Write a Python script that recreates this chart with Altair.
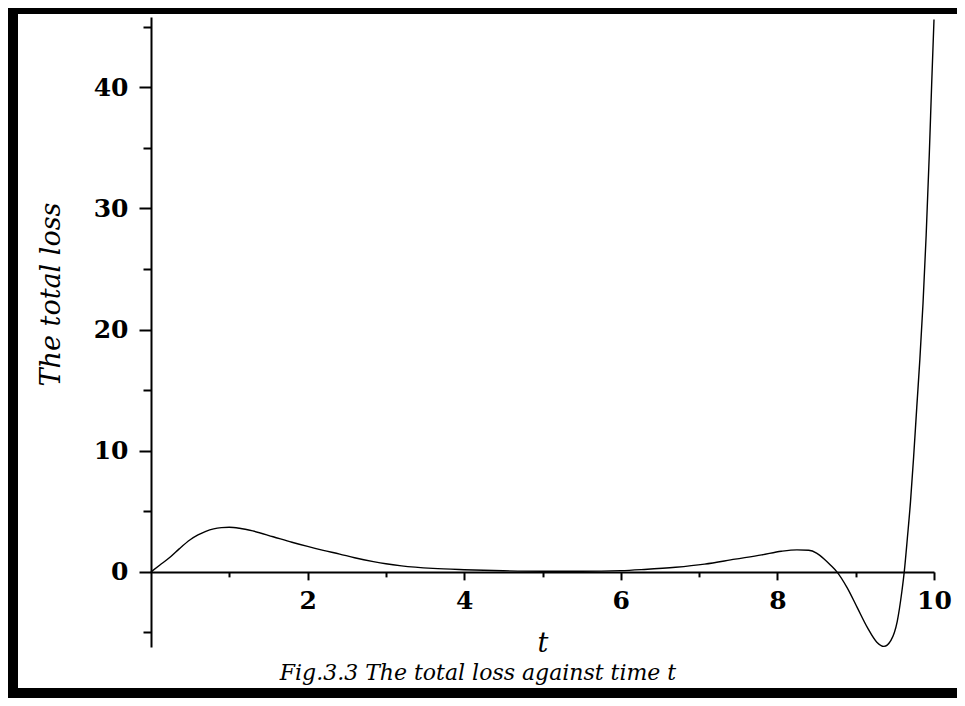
import altair as alt
import pandas as pd

# ---- data ----
t_vals = [0, 0.11, 0.25, 0.36, 0.5, 0.6, 0.7, 0.8, 0.9, 1.0, 1.13, 1.3, 1.56, 1.8,
          2.0, 2.2, 2.41, 2.6, 2.84, 3.0, 3.2, 3.6, 4.0, 4.5, 5.0, 5.5, 6.0, 6.3,
          6.7, 7.07, 7.46, 7.8, 8.05, 8.25, 8.4, 8.5, 8.6, 8.68, 8.76, 8.89, 9.02,
          9.15, 9.27, 9.36, 9.45, 9.53, 9.59, 9.62, 9.66, 9.70, 9.74, 9.78, 9.82,
          9.86, 9.90, 9.94, 9.97, 10.0]
loss_vals = [0, 0.55, 1.25, 1.9, 2.65, 3.05, 3.35, 3.55, 3.65, 3.68, 3.6, 3.38,
             2.9, 2.45, 2.1, 1.78, 1.47, 1.17, 0.85, 0.67, 0.5, 0.29, 0.18, 0.09,
             0.05, 0.05, 0.1, 0.2, 0.38, 0.64, 1.05, 1.4, 1.7, 1.82, 1.78, 1.55,
             1.05, 0.55, 0.0, -1.3, -2.95, -4.6, -5.8, -6.15, -5.65, -4.1, -1.6,
             0.0, 2.8, 5.8, 9.5, 13.6, 17.6, 22.2, 27.8, 34.5, 40.2, 45.6]

x_major = [2, 4, 6, 8, 10]
x_minor = [1, 3, 5, 7, 9]
y_major = [0, 10, 20, 30, 40]
y_minor = [-5, 5, 15, 25, 35, 45]

x_domain = [0, 10]
y_domain = [-6.2, 45.8]

x_title = "t"
y_title = "The total loss"
caption = "Fig.3.3 The total loss against time t"

W, H = 783, 630
# x axis sits on the y = 0 line
x_axis_offset = -H * (0 - y_domain[0]) / (y_domain[1] - y_domain[0])

df = pd.DataFrame({"t": t_vals, "loss": loss_vals})
one = pd.DataFrame({"k": [0]})

FONT = "DejaVu Serif"
INK = "#000000"

xscale = alt.Scale(domain=x_domain, nice=False, zero=False)
yscale = alt.Scale(domain=y_domain, nice=False, zero=False)

curve = alt.Chart(df).mark_line(color=INK, strokeWidth=1.4, interpolate="monotone").encode(
    x=alt.X("t:Q", scale=xscale, axis=alt.Axis(
        values=x_major, orient="bottom", offset=x_axis_offset, grid=False,
        tickSize=8, tickWidth=2, tickColor=INK, domainWidth=2, domainColor=INK,
        labelFont=FONT, labelFontWeight="bold", labelFontSize=25, labelColor=INK,
        labelPadding=9, labelFlush=False, labelOverlap=False,
        title=x_title, titleFont=FONT, titleFontStyle="italic", titleFontWeight="normal",
        titleFontSize=27, titleColor=INK, titleY=72, titleBaseline="middle")),
    y=alt.Y("loss:Q", scale=yscale, axis=alt.Axis(
        values=y_major, orient="left", grid=False,
        tickSize=12, tickWidth=2, tickColor=INK, domainWidth=2, domainColor=INK,
        labelFont=FONT, labelFontWeight="bold", labelFontSize=25, labelColor=INK,
        labelPadding=11, labelOverlap=False, labelFlush=False,
        title=y_title, titleFont=FONT, titleFontStyle="italic", titleFontWeight="normal",
        titleFontSize=27, titleColor=INK, titleAngle=270, titleX=-100, titleY=277,
        titleAlign="center", titleBaseline="middle")),
)

minor = alt.Chart(df).mark_point(opacity=0).encode(
    x=alt.X("t:Q", scale=xscale, axis=alt.Axis(
        values=x_minor, orient="bottom", offset=x_axis_offset, grid=False,
        tickSize=5, tickWidth=2, tickColor=INK, domain=False, labels=False, title=None)),
    y=alt.Y("loss:Q", scale=yscale, axis=alt.Axis(
        values=y_minor, orient="left", grid=False,
        tickSize=8, tickWidth=2, tickColor=INK, domain=False, labels=False, title=None)),
)

frame_top = alt.Chart(one).mark_rect(color=INK).encode(
    x=alt.value(-143), x2=alt.value(806), y=alt.value(-9), y2=alt.value(-3))
frame_left = alt.Chart(one).mark_rect(color=INK).encode(
    x=alt.value(-143), x2=alt.value(-133), y=alt.value(-9), y2=alt.value(681))
frame_bottom = alt.Chart(one).mark_rect(color=INK).encode(
    x=alt.value(-143), x2=alt.value(806), y=alt.value(671), y2=alt.value(681))

caption_text = alt.Chart(one).mark_text(
    font=FONT, fontStyle="italic", fontSize=22, color=INK, align="center", baseline="middle"
).encode(x=alt.value(327), y=alt.value(656), text=alt.value(caption))

chart = alt.layer(frame_top, frame_left, frame_bottom, caption_text, minor, curve).resolve_axis(
    x="independent", y="independent"
).properties(
    width=W, height=H, padding=0, background="white",
).configure_view(stroke=None)

chart.save("out.html", embed_options={"renderer": "svg", "actions": False})
